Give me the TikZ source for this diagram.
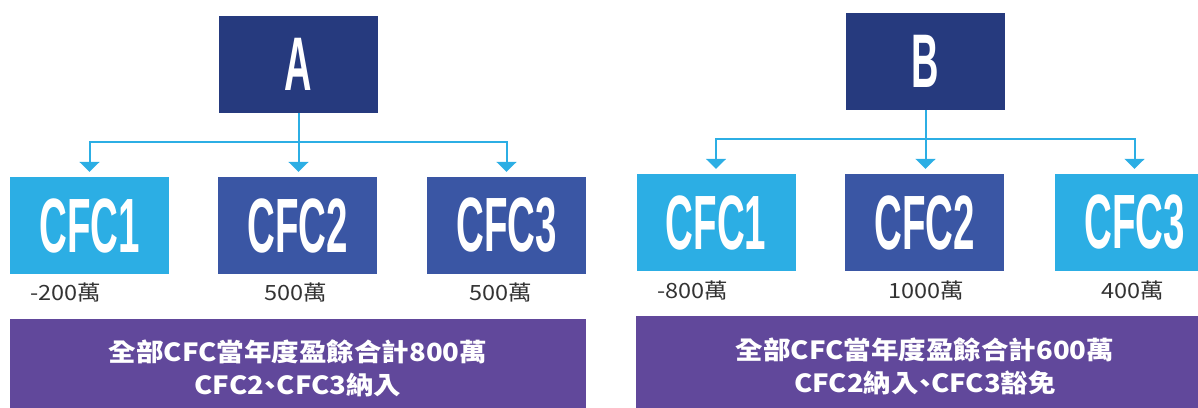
\documentclass[tikz,border=0pt]{standalone}
\usepackage{fontspec}
\newfontfamily\cjk[FakeStretch=1.12]{Noto Sans CJK TC}
\newfontfamily\cjkb[FakeStretch=1.1]{Noto Sans CJK TC}
\newfontfamily\condfont[FakeStretch=0.5]{Liberation Sans}
\usetikzlibrary{arrows.meta}
\definecolor{navy}{HTML}{263A7E}
\definecolor{lightblue}{HTML}{2CAEE4}
\definecolor{midblue}{HTML}{3A56A4}
\definecolor{purplebar}{HTML}{61489B}
\definecolor{labelgray}{HTML}{333333}
\newcommand{\dunhao}{\kern-0.3em、\kern-0.3em}
\tikzset{
  topbox/.style={fill=navy, minimum width=159pt, minimum height=97pt, inner sep=0pt,
    text=white, font=\condfont\bfseries\fontsize{76}{76}\selectfont},
  cfcbox/.style={minimum width=159pt, minimum height=97pt, inner sep=0pt,
    text=white, font=\condfont\bfseries\fontsize{77}{77}\selectfont},
  valtext/.style={text=labelgray, inner sep=0pt, font=\cjk\fontsize{21}{24}\selectfont},
  sumbar/.style={fill=purplebar, inner sep=0pt, text=white, align=center,
    font=\cjkb\bfseries\fontsize{25}{33}\selectfont},
  conn/.style={draw=lightblue, line width=2pt, -{Triangle[width=20pt,length=10pt]}, shorten >=5pt},
  connline/.style={draw=lightblue, line width=2pt}
}
\begin{document}
\begin{tikzpicture}[x=1pt,y=-1pt]
\useasboundingbox (0,0) rectangle (1198,407);
% Left group
\node[topbox] (A) at (298.5,64.5) {A};
\node[cfcbox, fill=lightblue] (a1) at (89.5,225.5) {CFC1};
\node[cfcbox, fill=midblue] (a2) at (297.5,225.5) {CFC2};
\node[cfcbox, fill=midblue] (a3) at (506.5,225.5) {CFC3};
\coordinate (ja) at (298.5,142);
\draw[connline] (A.south) -- (ja);
\draw[conn] (ja) -- (ja |- a2.north);
\draw[conn] (ja) -| (a1.north);
\draw[conn] (ja) -| (a3.north);
\node[valtext] (va1) at (66,293) {-200萬};
\node[valtext] (va2) at (296,293) {500萬};
\node[valtext] (va3) at (501,293) {500萬};
\node[sumbar, minimum width=576pt, minimum height=99pt] (sa) at (298,368.5)
  {全部CFC當年度盈餘合計800萬\\CFC2\dunhao CFC3納入};
% Right group
\node[topbox] (B) at (925.5,61.5) {B};
\node[cfcbox, fill=lightblue] (b1) at (716,222.5) {CFC1};
\node[cfcbox, fill=midblue] (b2) at (924.5,222.5) {CFC2};
\node[cfcbox, fill=lightblue] (b3) at (1134.5,222.5) {CFC3};
\coordinate (jb) at (925.5,139);
\draw[connline] (B.south) -- (jb);
\draw[conn] (jb) -- (jb |- b2.north);
\draw[conn] (jb) -| (b1.north);
\draw[conn] (jb) -| (b3.north);
\node[valtext] (vb1) at (693,291) {-800萬};
\node[valtext] (vb2) at (926,291) {1000萬};
\node[valtext] (vb3) at (1133,291) {400萬};
\node[sumbar, minimum width=578pt, minimum height=101pt] (sb) at (925,366.5)
  {全部CFC當年度盈餘合計600萬\\CFC2納入\dunhao CFC3豁免};
\end{tikzpicture}
\end{document}
